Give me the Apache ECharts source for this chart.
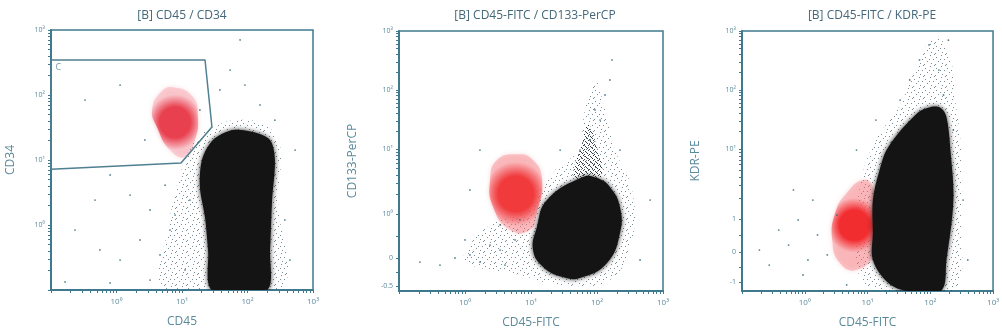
<!DOCTYPE html>
<html>
<head>
<meta charset="utf-8">
<script src="https://cdn.jsdelivr.net/npm/echarts@6/dist/echarts.min.js"></script>
<style>
  html, body { margin: 0; padding: 0; background: #fff; }
  #chart { width: 1002px; height: 336px; }
</style>
</head>
<body>
<div id="chart"></div>
<script>
// all axes are in display channels 0..1024 (log decades = 256 channels, starting at 10^-1)
const titles = ['[B] CD45 / CD34', '[B] CD45-FITC / CD133-PerCP', '[B] CD45-FITC / KDR-PE'];
const xNames = ['CD45', 'CD45-FITC', 'CD45-FITC'];
const yNames = ['CD34', 'CD133-PerCP', 'KDR-PE'];

const xTickValues = [256, 512, 768, 1024];
const xTickLabels = ['10⁰', '10¹', '10²', '10³'];
const yTickValues1 = [256, 512, 768, 1024];
const yTickLabels1 = ['10⁰', '10¹', '10²', '10³'];
const yTickValues2 = [20, 130, 303, 559, 792, 1024];
const yTickLabels2 = ['-0.5', '0', '10⁰', '10¹', '10²', '10³'];
const yTickValues3 = [35, 154, 284, 559, 792, 1024];
const yTickLabels3 = ['-1', '0', '1', '10¹', '10²', '10³'];

// gate C (panel 1)
const gateC = [[0, 906], [602, 906], [629, 642], [508, 500], [0, 476], [0, 906]];

// panel 1 populations
const blob1 = [[633, 591], [590, 512], [582, 406], [602, 287], [614, 158], [629, 0], [844, 0], [856, 158], [864, 354], [875, 512], [856, 591], [789, 622], [711, 630]];
const red1 = [[477, 799], [555, 760], [574, 681], [563, 591], [524, 524], [465, 551], [414, 642], [395, 709], [426, 776]];
const halo1 = [[563, 591], [504, 453], [465, 276], [446, 0], [895, 0], [887, 354], [895, 571], [836, 650], [719, 669], [629, 638]];
const dots1 = [[133, 748], [270, 807], [367, 591], [231, 453], [172, 354], [309, 374], [387, 315], [446, 413], [348, 197], [270, 118],
  [191, 158], [465, 236], [426, 138], [524, 79], [485, 295], [543, 354], [387, 39], [94, 236], [582, 709], [660, 788],
  [758, 807], [817, 729], [700, 866], [875, 669], [954, 551], [934, 118], [914, 276], [739, 985], [55, 32], [231, 28]];

// panel 2 populations
const blob2 = [[574, 358], [535, 252], [520, 161], [559, 95], [636, 55], [702, 51], [807, 110], [857, 228], [857, 331], [818, 410], [768, 445], [714, 449]];
const red2 = [[458, 539], [520, 516], [555, 437], [535, 307], [508, 240], [431, 240], [365, 331], [353, 437], [380, 516]];
const halo2 = [[353, 260], [275, 181], [256, 114], [469, 63], [625, 24], [818, 43], [904, 201], [904, 398], [838, 555], [799, 713],
  [760, 831], [721, 713], [694, 555], [605, 476], [508, 358], [450, 299]];
const tail2 = [[683, 437], [714, 595], [733, 654], [760, 595], [780, 437]];
const dots2 = [[275, 142], [314, 114], [217, 130], [353, 181], [392, 161], [411, 102], [450, 201], [159, 102], [256, 201], [392, 260],
  [469, 280], [780, 673], [799, 772], [826, 910], [741, 595], [760, 713], [702, 555], [857, 555], [625, 555], [275, 398],
  [974, 358], [935, 122], [81, 114], [314, 555], [818, 831]];

// panel 3 populations
const blob3 = [[771, 725], [716, 701], [597, 567], [558, 465], [534, 358], [534, 228], [534, 122], [597, 32], [676, 0], [811, 0],
  [834, 122], [862, 358], [850, 555], [834, 685], [811, 721]];
const red3 = [[494, 437], [534, 410], [546, 291], [538, 150], [467, 83], [399, 110], [368, 201], [380, 307], [427, 386]];
const halo3 = [[645, 733], [546, 595], [486, 437], [467, 240], [486, 43], [585, 0], [862, 0], [894, 280], [894, 555], [870, 752],
  [842, 949], [783, 996], [724, 910]];
const dots3 = [[150, 240], [190, 181], [229, 280], [269, 122], [308, 221], [348, 142], [249, 63], [111, 102], [387, 299], [427, 24],
  [724, 910], [763, 969], [803, 870], [684, 831], [842, 988], [822, 772], [645, 752], [862, 634], [902, 358], [921, 122],
  [546, 673], [467, 555], [289, 358], [210, 398], [71, 161]];

const axisColor = '#3f798d';
const textColor = '#5b8a9b';
const font = 'Open Sans, DejaVu Sans, sans-serif';

const grids = [
  { left: 51, top: 30, width: 262, height: 260 },
  { left: 399, top: 31, width: 264, height: 260 },
  { left: 742, top: 31, width: 259, height: 260 }
];

// log minor ticks
function logTicks(segs) {
  const out = [];
  segs.forEach(([a, b]) => {
    for (let k = 1; k <= 9; k++) out.push(a + (b - a) * Math.log10(k));
  });
  out.push(segs[segs.length - 1][1]);
  return out;
}
const xMinor = logTicks([[0, 256], [256, 512], [512, 768], [768, 1024]]);
const yMinor2 = [20, 75, 130, 216].concat(logTicks([[303, 559], [559, 792], [792, 1024]]));
const yMinor3 = [35, 95, 154, 219].concat(logTicks([[284, 559], [559, 792], [792, 1024]]));
const yMinors = [xMinor, yMinor2, yMinor3];
const yTicks = [[yTickValues1, yTickLabels1], [yTickValues2, yTickLabels2], [yTickValues3, yTickLabels3]];

// texture tiles for the speckled fringes
function stipple(color, size, pts) {
  const c = document.createElement('canvas');
  c.width = size; c.height = size;
  const ctx = c.getContext('2d');
  ctx.fillStyle = color;
  pts.forEach(p => ctx.fillRect(p[0], p[1], 1, 1));
  return { image: c, repeat: 'repeat' };
}
const sparseFill = stipple('rgba(30,65,80,0.6)', 11, [[1, 2], [6, 0], [9, 4], [3, 6], [7, 8], [0, 9], [5, 4], [10, 10]]);
const denseFill = stipple('rgba(20,30,35,0.85)', 5, [[0, 1], [3, 0], [2, 3], [4, 4], [1, 2]]);

function polySeries(gi, poly, style, smooth) {
  return {
    type: 'custom', xAxisIndex: gi, yAxisIndex: gi, data: poly, clip: true, silent: true,
    renderItem: function (params, api) {
      if (params.dataIndex !== 0) return null;
      return {
        type: 'polygon',
        shape: { points: poly.map(p => api.coord(p)), smooth: smooth },
        style: style
      };
    }
  };
}

function redStyle(core, edge) {
  return {
    fill: new echarts.graphic.RadialGradient(0.5, 0.5, 0.6, [
      { offset: 0, color: core },
      { offset: 0.55, color: core },
      { offset: 1, color: edge }
    ]),
    shadowBlur: 5,
    shadowColor: 'rgba(238,90,100,0.6)'
  };
}
const blackStyle = { fill: '#141414', shadowBlur: 5, shadowColor: 'rgba(0,0,0,0.85)' };
const haloStyle = { fill: sparseFill };

const xAxes = [0, 1, 2].map(i => ({
  type: 'value', gridIndex: i, min: 0, max: 1024,
  name: xNames[i], nameLocation: 'middle', nameGap: 26,
  nameTextStyle: { color: textColor, fontSize: 12, fontFamily: font },
  axisLine: { show: true, lineStyle: { color: axisColor, width: 2 } },
  axisTick: { show: true, customValues: xMinor, length: 3, lineStyle: { color: axisColor, width: 1 } },
  axisLabel: {
    customValues: xTickValues, formatter: v => xTickLabels[xTickValues.indexOf(v)],
    color: textColor, fontSize: 8, fontFamily: font, margin: 8, showMaxLabel: true
  },
  splitLine: { show: false }
}));

const yAxes = [0, 1, 2].map(i => ({
  type: 'value', gridIndex: i, min: 0, max: 1024,
  name: yNames[i], nameLocation: 'middle', nameGap: i === 0 ? 34 : 40,
  nameTextStyle: { color: textColor, fontSize: 12, fontFamily: font },
  axisLine: { show: true, lineStyle: { color: axisColor, width: 2 } },
  axisTick: { show: true, customValues: yMinors[i], length: 3, lineStyle: { color: axisColor, width: 1 } },
  axisLabel: {
    customValues: yTicks[i][0], formatter: v => yTicks[i][1][yTicks[i][0].indexOf(v)],
    color: textColor, fontSize: 7, fontFamily: font, margin: 6
  },
  splitLine: { show: false }
}));

const dotSeries = (gi, pts) => ({
  type: 'scatter', xAxisIndex: gi, yAxisIndex: gi, data: pts, symbolSize: 1.8, silent: true,
  itemStyle: { color: '#2e6477', opacity: 0.8 }
});

const series = [
  polySeries(0, halo1, haloStyle, 0.4),
  dotSeries(0, dots1),
  polySeries(0, red1, redStyle('#e8404e', 'rgba(240,130,145,0.3)'), 0.5),
  polySeries(0, blob1, blackStyle, 0.3),
  {
    type: 'line', xAxisIndex: 0, yAxisIndex: 0, data: gateC, symbol: 'none', silent: true,
    lineStyle: { color: '#4f7f90', width: 1.5 }
  },
  {
    type: 'scatter', xAxisIndex: 0, yAxisIndex: 0, data: [gateC[0]], symbolSize: 1, silent: true,
    itemStyle: { color: 'rgba(0,0,0,0)' },
    label: { show: true, formatter: 'C', position: [5, 3], color: '#4f7f90', fontSize: 9, fontFamily: font }
  },

  polySeries(1, halo2, haloStyle, 0.4),
  polySeries(1, tail2, { fill: denseFill }, 0.5),
  dotSeries(1, dots2),
  polySeries(1, red2, redStyle('#f03a3c', 'rgba(245,110,115,0.35)'), 0.5),
  polySeries(1, blob2, blackStyle, 0.45),

  polySeries(2, halo3, haloStyle, 0.4),
  dotSeries(2, dots3),
  polySeries(2, red3, redStyle('#f22d30', 'rgba(245,110,115,0.35)'), 0.5),
  polySeries(2, blob3, blackStyle, 0.35)
];

const chart = echarts.init(document.getElementById('chart'), null, { renderer: 'canvas' });
chart.setOption({
  animation: false,
  backgroundColor: '#fff',
  grid: grids.map(g => Object.assign({ show: true, borderColor: axisColor, borderWidth: 1.5, backgroundColor: '#fff' }, g)),
  graphic: [
    { type: 'text', x: 182, y: 10, style: { text: titles[0], textAlign: 'center', fill: '#44687a', fontSize: 12, fontFamily: font } },
    { type: 'text', x: 535, y: 10, style: { text: titles[1], textAlign: 'center', fill: '#44687a', fontSize: 12, fontFamily: font } },
    { type: 'text', x: 872, y: 10, style: { text: titles[2], textAlign: 'center', fill: '#44687a', fontSize: 12, fontFamily: font } }
  ],
  xAxis: xAxes,
  yAxis: yAxes,
  series: series
});
</script>
</body>
</html>
